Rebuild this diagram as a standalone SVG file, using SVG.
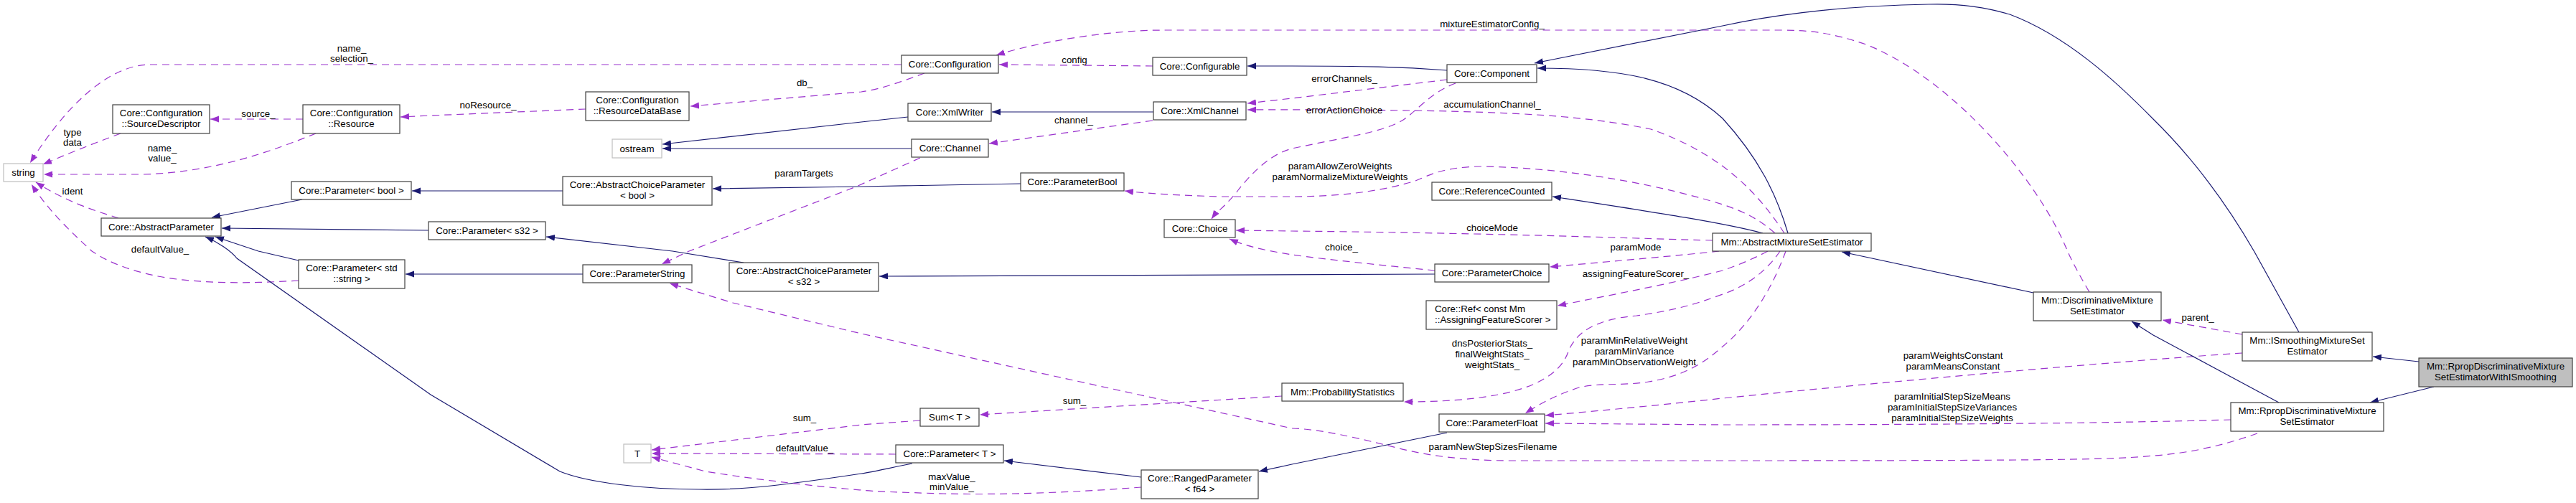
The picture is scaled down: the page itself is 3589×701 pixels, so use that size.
<svg xmlns="http://www.w3.org/2000/svg" width="3589" height="701" viewBox="0 0 3589 701">
<defs>
<style>
.n rect{fill:#fff;stroke:#404040;stroke-width:1.2}
.g rect{fill:#fff;stroke:#bfbfbf;stroke-width:1.2}
.m rect{fill:#bfbfbf;stroke:#404040;stroke-width:1.2}
text{font-family:"Liberation Sans",Arial,sans-serif;font-size:13.3px;fill:#000;text-anchor:middle}
.l{text-anchor:start}
.e path{fill:none}
.s{stroke:#191970;stroke-width:1.2}
.d{stroke:#9a32cd;stroke-width:1.2;stroke-dasharray:10,7}
</style>
<marker id="ab" markerUnits="userSpaceOnUse" markerWidth="14" markerHeight="11" refX="12" refY="4.5" orient="auto"><path d="M0,0 L12,4.5 L0,9 z" fill="#191970"/></marker>
<marker id="ap" markerUnits="userSpaceOnUse" markerWidth="14" markerHeight="11" refX="12" refY="4.5" orient="auto"><path d="M0,0 L12,4.5 L0,9 z" fill="#9a32cd"/></marker>
</defs>
<rect width="3589" height="701" fill="#fff"/>
<g id="edges" class="e">
<path class="d" marker-end="url(#ap)" d="M1256,90 L210,90 C150,90 90,150 42,227"/>
<path class="d" marker-end="url(#ap)" d="M168,186 C130,200 95,214 60,229"/>
<path class="d" marker-end="url(#ap)" d="M440,186 C380,210 300,240 200,243 L61,243"/>
<path class="d" marker-end="url(#ap)" d="M165,304 C130,293 90,280 50,254"/>
<path class="d" marker-end="url(#ap)" d="M416,391 C350,395 280,396 220,385 C180,377 150,365 128,350 C95,320 65,290 44,257"/>
<path class="d" marker-end="url(#ap)" d="M422,166 L293,166"/>
<path class="d" marker-end="url(#ap)" d="M816,152 L600,161 L558,163"/>
<path class="d" marker-end="url(#ap)" d="M1288,102 C1260,112 1230,124 1200,128 L962,148"/>
<path class="s" marker-end="url(#ab)" d="M421,278 L295,303"/>
<path class="s" marker-end="url(#ab)" d="M784,266 L574,266"/>
<path class="s" marker-end="url(#ab)" d="M597,321 L309,318"/>
<path class="s" marker-end="url(#ab)" d="M416,363 L360,350 L300,330"/>
<path class="s" marker-end="url(#ab)" d="M1271,646 C1240,652 1220,657 1200,660 C1100,675 1040,683 975,682 C900,682 820,673 780,657 L600,550 L330,360 C322,350 305,338 286,330"/>
<path class="s" marker-end="url(#ab)" d="M812,382 L565,382"/>
<path class="s" marker-end="url(#ab)" d="M1422,256 L1200,260 L993,263"/>
<path class="d" marker-end="url(#ap)" d="M1282,220 L1193,260 L960,350 C945,357 935,362 922,368"/>
<path class="s" marker-end="url(#ab)" d="M1036,366 L937,350 L761,330"/>
<path class="s" marker-end="url(#ab)" d="M1265,163 L1200,170 L923,201"/>
<path class="s" marker-end="url(#ab)" d="M1270,207 L923,207"/>
<path class="d" marker-end="url(#ap)" d="M1606,92 L1392,90"/>
<path class="d" marker-end="url(#ap)" d="M2911,407 C2895,380 2885,360 2881,351 C2840,250 2720,110 2600,62 C2550,45 2520,42 2480,42 L1621,42 C1540,42 1440,60 1388,77"/>
<path class="s" marker-end="url(#ab)" d="M2016,98 C1950,93 1900,92 1800,92 L1738,92"/>
<path class="s" marker-end="url(#ab)" d="M1607,156 L1382,156"/>
<path class="d" marker-end="url(#ap)" d="M1606,168 C1520,180 1450,190 1378,200"/>
<path class="d" marker-end="url(#ap)" d="M2016,111 L1800,137 L1738,144"/>
<path class="d" marker-end="url(#ap)" d="M2486,325 C2450,270 2400,215 2300,180 C2200,160 2100,152 1738,153"/>
<path class="d" marker-end="url(#ap)" d="M2028,116 C1990,130 1970,160 1950,170 C1920,185 1880,190 1800,207 C1770,215 1745,240 1725,265 C1710,285 1695,295 1688,305"/>
<path class="d" marker-end="url(#ap)" d="M2473,325 C2450,305 2430,295 2400,285 C2320,260 2200,235 2068,232 C2010,232 1990,245 1972,252 C1920,268 1860,274 1800,274 L1700,274 C1640,272 1600,270 1567,266"/>
<path class="s" marker-end="url(#ab)" d="M2456,325 C2400,310 2300,295 2163,274"/>
<path class="s" marker-end="url(#ab)" d="M2491,325 C2475,270 2450,220 2400,165 C2340,110 2260,95 2142,95"/>
<path class="s" marker-end="url(#ab)" d="M3203,463 L3141,351 C3100,280 3050,215 3000,166 C2950,115 2880,50 2800,20 C2760,8 2720,5 2687,6 C2550,8 2450,25 2400,36 L2138,88"/>
<path class="d" marker-end="url(#ap)" d="M2386,335 C2300,333 2100,325 1800,322 L1722,321"/>
<path class="d" marker-end="url(#ap)" d="M1999,377 C1930,370 1850,362 1800,355 C1770,350 1740,345 1713,333"/>
<path class="d" marker-end="url(#ap)" d="M2395,350 C2340,356 2260,363 2159,372"/>
<path class="s" marker-end="url(#ab)" d="M1999,382 L1225,385"/>
<path class="d" marker-end="url(#ap)" d="M2463,350 C2440,362 2420,370 2400,377 C2330,395 2250,410 2170,426"/>
<path class="d" marker-end="url(#ap)" d="M2480,350 C2460,380 2430,400 2400,410 C2360,425 2330,433 2280,440 C2220,445 2195,465 2185,490 C2175,520 2140,540 2087,550 C2050,557 2010,560 1956,560"/>
<path class="d" marker-end="url(#ap)" d="M2488,350 C2470,400 2440,450 2400,483 C2370,510 2340,525 2297,532 C2260,538 2230,533 2200,540 C2170,550 2150,560 2125,576"/>
<path class="d" marker-end="url(#ap)" d="M3124,492 C3000,500 2700,525 2400,555 C2300,566 2200,575 2153,579"/>
<path class="d" marker-end="url(#ap)" d="M3108,585 C3000,588 2800,592 2400,592 L2153,590"/>
<path class="d" marker-end="url(#ap)" d="M3145,604 C3100,620 3050,632 3000,635 C2950,640 2900,642 2400,642 L2106,642 C2040,642 1990,635 1950,625 C1890,610 1840,598 1800,597 L1200,465 L1021,422 L933,395"/>
<path class="d" marker-end="url(#ap)" d="M1282,586 L1200,592 L908,627"/>
<path class="d" marker-end="url(#ap)" d="M1786,552 L1365,578"/>
<path class="d" marker-end="url(#ap)" d="M1248,633 L908,632"/>
<path class="d" marker-end="url(#ap)" d="M1590,679 C1500,686 1400,690 1315,688 C1250,686 1220,685 1200,683 C1100,675 1000,660 983,657 L908,637"/>
<path class="s" marker-end="url(#ab)" d="M1590,665 L1399,642"/>
<path class="s" marker-end="url(#ab)" d="M2016,603 L1800,647 L1754,657"/>
<path class="s" marker-end="url(#ab)" d="M2833,408 L2566,351"/>
<path class="d" marker-end="url(#ap)" d="M3124,466 L3013,446"/>
<path class="s" marker-end="url(#ab)" d="M3175,561 L3000,467 L2970,448"/>
<path class="s" marker-end="url(#ab)" d="M3370,504 L3306,497"/>
<path class="s" marker-end="url(#ab)" d="M3391,539 L3302,561"/>
</g>
<g id="edge-labels">
<text x="490" y="72">name_</text><text x="490" y="86">selection_</text>
<text x="101" y="189">type</text><text x="101" y="203">data</text>
<text x="226" y="211">name_</text><text x="226" y="225">value_</text>
<text x="101" y="271">ident</text>
<text x="360" y="163">source_</text>
<text x="223" y="352">defaultValue_</text>
<text x="680" y="151">noResource_</text>
<text x="1121" y="120">db_</text>
<text x="1120" y="246">paramTargets</text>
<text x="1121" y="587">sum_</text>
<text x="1121" y="629">defaultValue_</text>
<text x="1497" y="88">config</text>
<text x="1496" y="172">channel_</text>
<text x="1497" y="563">sum_</text>
<text x="1326" y="669">maxValue_</text><text x="1326" y="683">minValue_</text>
<text x="2079" y="38">mixtureEstimatorConfig_</text>
<text x="1873" y="114">errorChannels_</text>
<text x="1873" y="158">errorActionChoice</text>
<text x="2079" y="150">accumulationChannel_</text>
<text x="1867" y="236">paramAllowZeroWeights</text><text x="1867" y="251">paramNormalizeMixtureWeights</text>
<text x="2079" y="322">choiceMode</text>
<text x="1869" y="349">choice_</text>
<text x="2279" y="349">paramMode</text>
<text x="2279" y="386">assigningFeatureScorer_</text>
<text x="2079" y="483">dnsPosteriorStats_</text><text x="2079" y="498">finalWeightStats_</text><text x="2079" y="513">weightStats_</text>
<text x="2277" y="479">paramMinRelativeWeight</text><text x="2277" y="494">paramMinVariance</text><text x="2277" y="509">paramMinObservationWeight</text>
<text x="2080" y="627">paramNewStepSizesFilename</text>
<text x="2721" y="500">paramWeightsConstant</text><text x="2721" y="515">paramMeansConstant</text>
<text x="2720" y="557">paramInitialStepSizeMeans</text><text x="2720" y="572">paramInitialStepSizeVariances</text><text x="2720" y="587">paramInitialStepSizeWeights</text>
<text x="3062" y="447">parent_</text>
</g>
<g id="n-string" class="g"><rect x="5" y="228" width="55" height="25"/><text x="32.5" y="245">string</text></g>
<g id="n-sourcedescriptor" class="n"><rect x="157" y="146" width="135" height="40"/><text x="224.5" y="162">Core::Configuration</text><text x="224.5" y="177">::SourceDescriptor</text></g>
<g id="n-resource" class="n"><rect x="422" y="146" width="135" height="40"/><text x="489.5" y="162">Core::Configuration</text><text x="489.5" y="177">::Resource</text></g>
<g id="n-parambool" class="n"><rect x="406" y="253" width="167" height="25"/><text x="489.5" y="270">Core::Parameter&lt; bool &gt;</text></g>
<g id="n-abstractparameter" class="n"><rect x="141" y="304" width="167" height="25"/><text x="224.5" y="321">Core::AbstractParameter</text></g>
<g id="n-paramstdstring" class="n"><rect x="416" y="362" width="148" height="40"/><text x="490" y="378">Core::Parameter&lt; std</text><text x="490" y="393">::string &gt;</text></g>
<g id="n-resourcedatabase" class="n"><rect x="816" y="128" width="144" height="40"/><text x="888" y="144">Core::Configuration</text><text x="888" y="159">::ResourceDataBase</text></g>
<g id="n-ostream" class="g"><rect x="853" y="194" width="69" height="26"/><text x="887.5" y="212">ostream</text></g>
<g id="n-abstractchoicebool" class="n"><rect x="784" y="246" width="208" height="40"/><text x="888" y="262">Core::AbstractChoiceParameter</text><text x="888" y="277">&lt; bool &gt;</text></g>
<g id="n-params32" class="n"><rect x="597" y="309" width="163" height="25"/><text x="678.5" y="326">Core::Parameter&lt; s32 &gt;</text></g>
<g id="n-parameterstring" class="n"><rect x="812" y="369" width="152" height="25"/><text x="888" y="386">Core::ParameterString</text></g>
<g id="n-abstractchoices32" class="n"><rect x="1016" y="366" width="208" height="40"/><text x="1120" y="382">Core::AbstractChoiceParameter</text><text x="1120" y="397">&lt; s32 &gt;</text></g>
<g id="n-t" class="g"><rect x="869" y="619" width="38" height="26"/><text x="888" y="637">T</text></g>
<g id="n-configuration" class="n"><rect x="1256" y="77" width="135" height="25"/><text x="1323.5" y="94">Core::Configuration</text></g>
<g id="n-configurable" class="n"><rect x="1606" y="80" width="131" height="25"/><text x="1671.5" y="97">Core::Configurable</text></g>
<g id="n-xmlwriter" class="n"><rect x="1265" y="144" width="116" height="25"/><text x="1323" y="161">Core::XmlWriter</text></g>
<g id="n-xmlchannel" class="n"><rect x="1607" y="142" width="129" height="25"/><text x="1671.5" y="159">Core::XmlChannel</text></g>
<g id="n-channel" class="n"><rect x="1270" y="194" width="107" height="25"/><text x="1323.5" y="211">Core::Channel</text></g>
<g id="n-parameterbool" class="n"><rect x="1422" y="241" width="144" height="25"/><text x="1494" y="258">Core::ParameterBool</text></g>
<g id="n-choice" class="n"><rect x="1622" y="306" width="99" height="25"/><text x="1671.5" y="323">Core::Choice</text></g>
<g id="n-sum" class="n"><rect x="1282" y="569" width="82" height="25"/><text x="1323" y="586">Sum&lt; T &gt;</text></g>
<g id="n-paramt" class="n"><rect x="1248" y="620" width="150" height="25"/><text x="1323" y="637">Core::Parameter&lt; T &gt;</text></g>
<g id="n-rangedparameter" class="n"><rect x="1590" y="655" width="163" height="40"/><text x="1671.5" y="671">Core::RangedParameter</text><text x="1671.5" y="686">&lt; f64 &gt;</text></g>
<g id="n-component" class="n"><rect x="2016" y="90" width="125" height="25"/><text x="2078.5" y="107">Core::Component</text></g>
<g id="n-referencecounted" class="n"><rect x="1995" y="254" width="167" height="25"/><text x="2078.5" y="271">Core::ReferenceCounted</text></g>
<g id="n-abstractmixture" class="n"><rect x="2386" y="325" width="221" height="25"/><text x="2496.5" y="342">Mm::AbstractMixtureSetEstimator</text></g>
<g id="n-parameterchoice" class="n"><rect x="1999" y="368" width="159" height="25"/><text x="2078.5" y="385">Core::ParameterChoice</text></g>
<g id="n-ref" class="n"><rect x="1987" y="419" width="182" height="40"/><text class="l" x="1999" y="435">Core::Ref&lt; const Mm</text><text class="l" x="1999" y="450">::AssigningFeatureScorer &gt;</text></g>
<g id="n-probabilitystatistics" class="n"><rect x="1786" y="534" width="169" height="25"/><text x="1870.5" y="551">Mm::ProbabilityStatistics</text></g>
<g id="n-parameterfloat" class="n"><rect x="2005" y="577" width="147" height="25"/><text x="2078.5" y="594">Core::ParameterFloat</text></g>
<g id="n-discriminative" class="n"><rect x="2833" y="407" width="178" height="40"/><text x="2922" y="423">Mm::DiscriminativeMixture</text><text x="2922" y="438">SetEstimator</text></g>
<g id="n-ismoothing" class="n"><rect x="3124" y="463" width="181" height="40"/><text x="3214.5" y="479">Mm::ISmoothingMixtureSet</text><text x="3214.5" y="494">Estimator</text></g>
<g id="n-rpropwithismoothing" class="m"><rect x="3370" y="499" width="214" height="40"/><text x="3477" y="515">Mm::RpropDiscriminativeMixture</text><text x="3477" y="530">SetEstimatorWithISmoothing</text></g>
<g id="n-rprop" class="n"><rect x="3108" y="561" width="213" height="40"/><text x="3214.5" y="577">Mm::RpropDiscriminativeMixture</text><text x="3214.5" y="592">SetEstimator</text></g>
</svg>
